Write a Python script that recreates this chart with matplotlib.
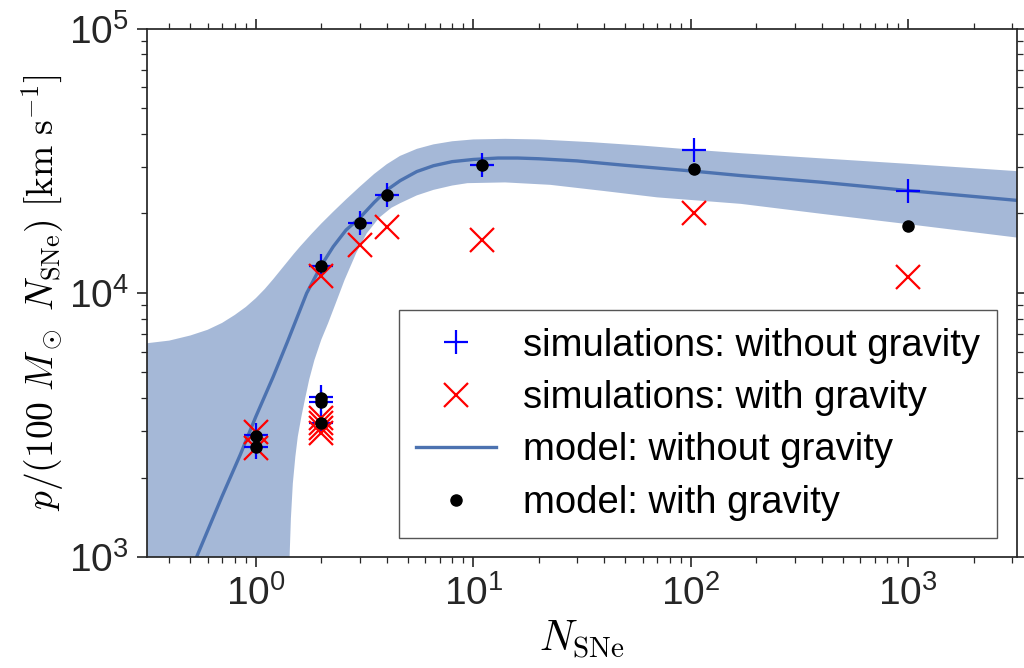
import matplotlib
matplotlib.use("Agg")
import matplotlib.pyplot as plt
import numpy as np

# ---- data ----
sim_nograv_N = [1, 1, 2, 2, 2, 2, 3, 4, 11, 103, 1000]
sim_nograv_p = [2900, 2620, 4040, 3860, 3220, 12650, 18400, 23400, 30400, 34800, 24300]

sim_grav_N = [1, 1, 2, 2, 2, 2, 2, 3, 4, 11, 103, 1000]
sim_grav_p = [2980, 2590, 3360, 3220, 3080, 2950, 11600, 15200, 17800, 15900, 20000, 11500]

mod_grav_N = [1, 1, 2, 2, 2, 2, 3, 4, 11, 103, 1000]
mod_grav_p = [2870, 2610, 4000, 3860, 3220, 12650, 18400, 23400, 30400, 29400, 17900]

line_N = [0.50, 0.534, 0.7, 0.85, 1.0, 1.2, 1.4, 1.6, 1.713, 2.0, 2.27, 2.6, 3.0, 3.5, 4.0,
          4.61, 5.5, 6.56, 8, 10, 13, 16, 20, 30, 50, 103, 170, 397, 1000, 3162]
line_p = [880, 1000, 1700, 2450, 3400, 4800, 6550, 8650, 9970, 12700, 14970, 17300, 19200,
          22000, 24500, 26600, 28800, 30300, 31400, 32000, 32400, 32400, 32200, 31600, 30400,
          28900, 27800, 26250, 24400, 22400]

band_up_N = [0.316, 0.4, 0.5, 0.6, 0.7, 0.8, 0.9, 1.0, 1.1, 1.2, 1.3, 1.4, 1.5, 1.6, 1.8, 2.0,
             2.27, 2.6, 3.0, 3.5, 4.0, 4.6, 5.5, 6.56, 8, 10, 14, 20, 35, 60, 100, 170, 400,
             1000, 3162]
band_up_p = [6450, 6600, 6900, 7250, 7700, 8250, 8850, 9550, 10350, 11250, 12200, 13150, 14100,
             15000, 16700, 18300, 20300, 22600, 25200, 28200, 30700, 33000, 35100, 36500, 37500,
             38100, 38300, 38100, 37200, 36100, 34900, 33800, 32300, 30800, 28900]

band_lo_N = [0.316, 1.40, 1.42, 1.43, 1.45, 1.48, 1.52, 1.56, 1.62, 1.68, 1.76, 1.86, 2.0, 2.15,
             2.35, 2.56, 2.9, 3.24, 3.7, 4.2, 4.61, 5.5, 6.56, 8, 9.4, 14, 22.6, 40, 70, 170,
             400, 1000, 3162]
band_lo_p = [100, 100, 700, 1000, 1400, 1900, 2400, 2860, 3400, 3930, 4700, 5570, 6650, 7680,
             9300, 11200, 14200, 16830, 19300, 21000, 21860, 23400, 24550, 25500, 26030, 26200,
             25650, 24300, 23000, 21730, 19920, 18200, 16200]

labels = ["simulations: without gravity", "simulations: with gravity",
          "model: without gravity", "model: with gravity"]

# ---- style ----
plt.rcParams["font.family"] = ["Liberation Sans", "DejaVu Sans"]
plt.rcParams["mathtext.fontset"] = "cm"
plt.rcParams["axes.edgecolor"] = "#262626"
plt.rcParams["axes.linewidth"] = 1.25

fig = plt.figure(figsize=(10.24, 6.68), dpi=100)
ax = fig.add_axes([0.1436, 0.166, 0.8496, 0.791])

blue = "#4C72B0"
grid = np.unique(np.concatenate([band_up_N, band_lo_N]))
up = np.exp(np.interp(np.log(grid), np.log(band_up_N), np.log(band_up_p)))
lo = np.exp(np.interp(np.log(grid), np.log(band_lo_N), np.log(band_lo_p)))
ax.fill_between(grid, lo, up, color=blue, alpha=0.5, linewidth=0, zorder=1)
ax.plot(line_N, line_p, color=blue, lw=2.4, zorder=2, label=labels[2])

ax.plot(sim_nograv_N, sim_nograv_p, linestyle="none", marker="+", color="blue",
        markersize=17, mew=1.6, zorder=3, label=labels[0])
ax.plot(sim_grav_N, sim_grav_p, linestyle="none", marker="x", color="red",
        markersize=17, mew=1.6, zorder=3, label=labels[1])
ax.plot(mod_grav_N, mod_grav_p, linestyle="none", marker="o", color="black",
        markersize=8, zorder=4, label=labels[3])

ax.set_xscale("log")
ax.set_yscale("log")
ax.set_xlim(10 ** -0.5, 10 ** 3.5)
ax.set_ylim(1e3, 1e5)

ax.tick_params(which="both", direction="out", top=True, right=True, colors="#262626",
               labelsize=28)
ax.tick_params(which="major", length=7, width=1.2, pad=6)
ax.tick_params(which="minor", length=4, width=0.9)

ax.set_xlabel(r"$N_{\rm SNe}$", fontsize=30, labelpad=4)
ax.set_ylabel(r"$p/(100\ M_\odot\ N_{\rm SNe})\ [{\rm km\ s^{-1}}]$", fontsize=27, labelpad=2)

h, l = ax.get_legend_handles_labels()
order = [l.index(x) for x in labels]
leg = ax.legend([h[i] for i in order], [l[i] for i in order], loc="lower right",
                bbox_to_anchor=(0.977, 0.036), borderaxespad=0, fontsize=27.5,
                frameon=True, fancybox=False, framealpha=1, edgecolor="#555555",
                handlelength=2.1, handletextpad=0.7, borderpad=0.45, labelspacing=0.43)
leg.get_frame().set_linewidth(1.0)

fig.savefig("out.png", dpi=100)
